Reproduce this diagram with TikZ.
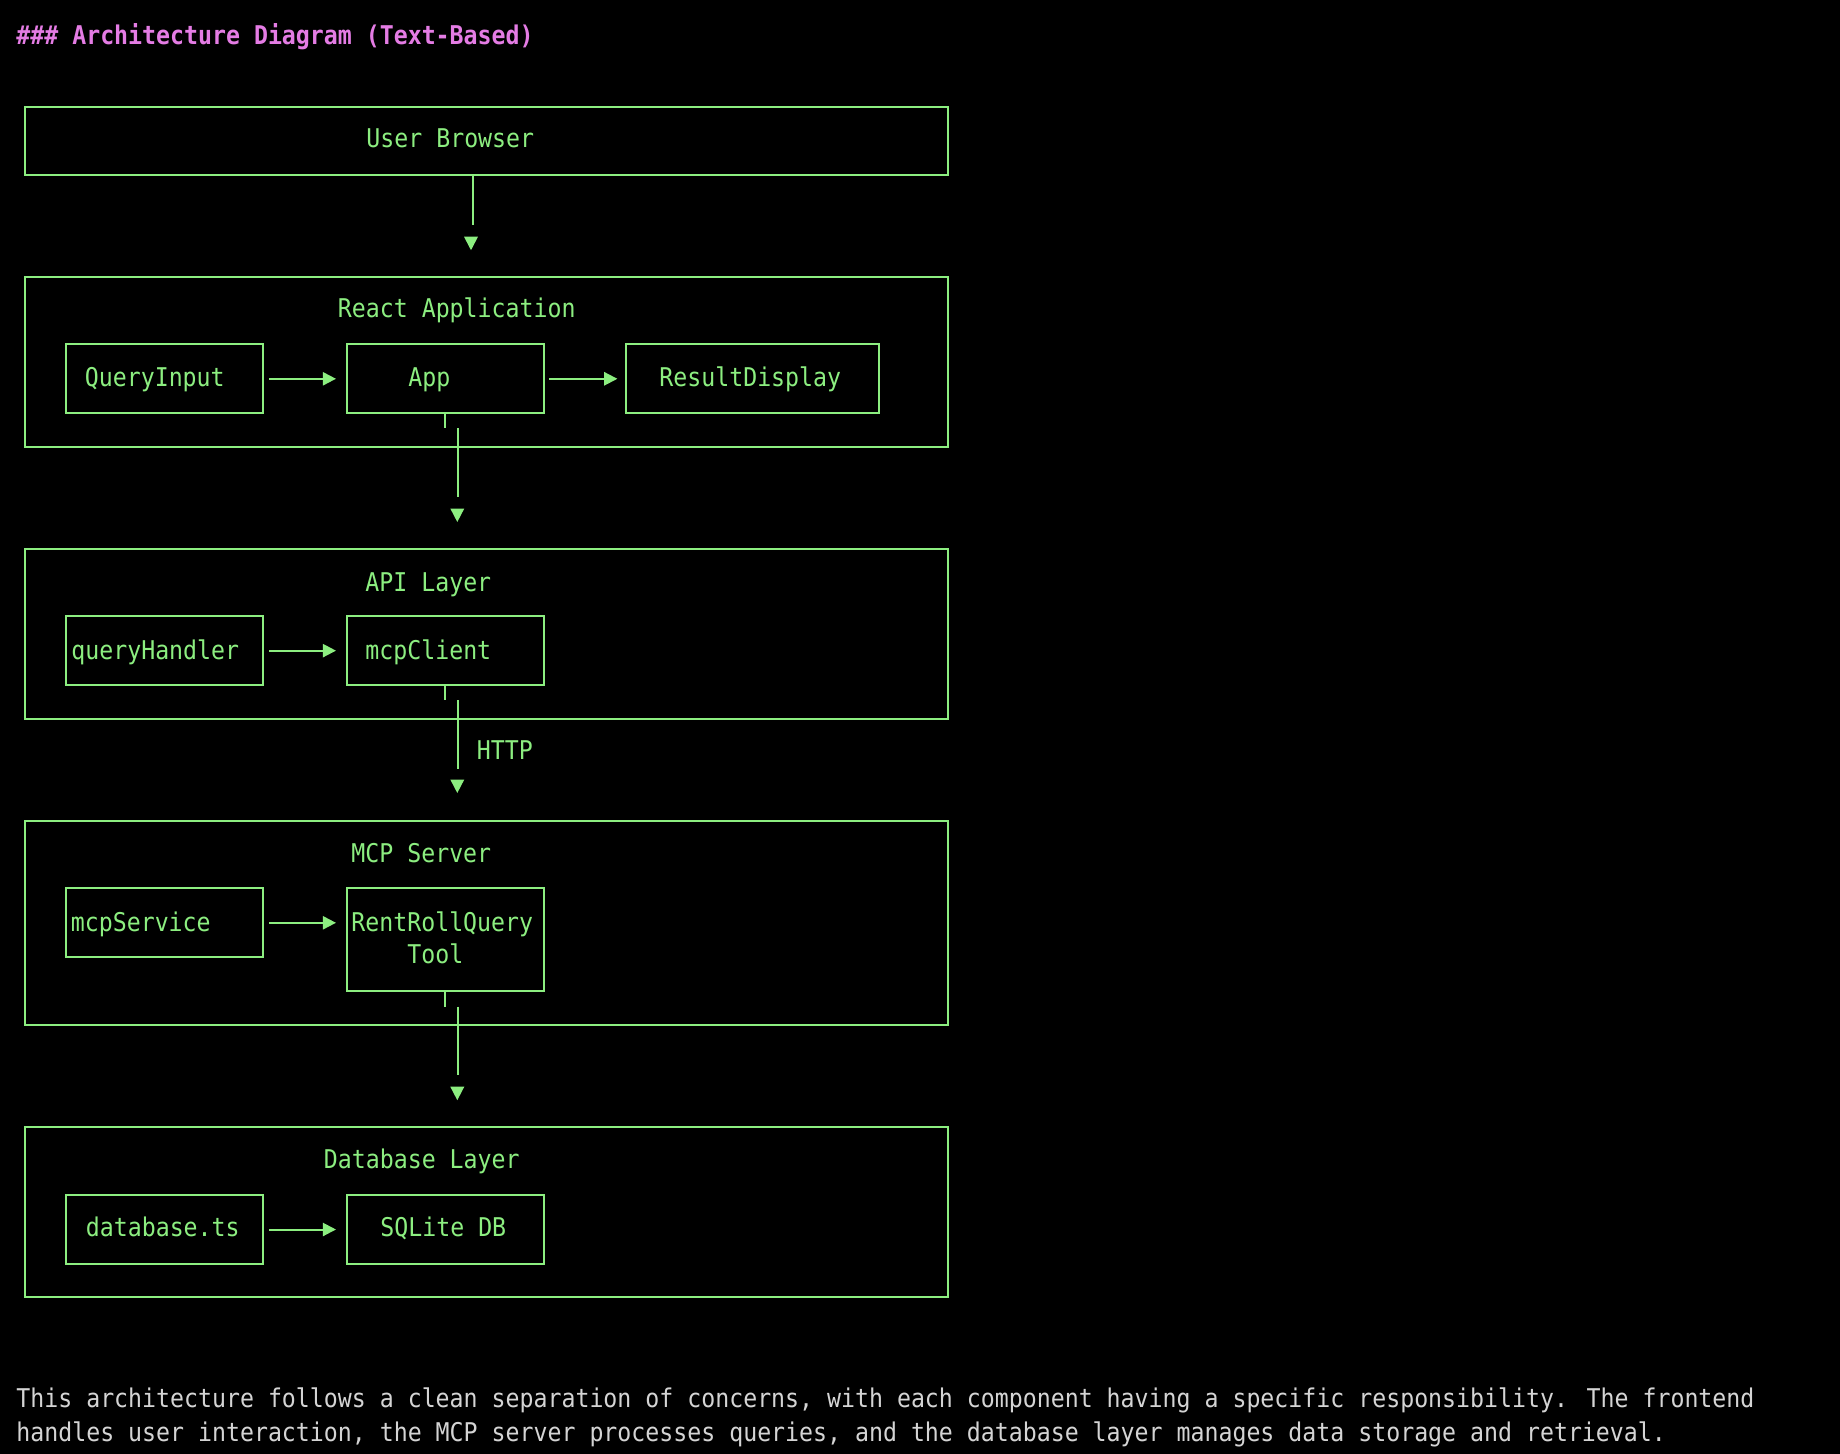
\documentclass[tikz,border=0pt]{standalone}
\usepackage{fontspec}
\newfontfamily\mono[FakeStretch=0.9]{DejaVu Sans Mono}
\usetikzlibrary{arrows.meta,fit}
\definecolor{tgreen}{RGB}{140,238,128}
\definecolor{tpink}{RGB}{228,124,228}
\definecolor{tgray}{RGB}{212,212,212}
\newcommand\layerbox[5]{\coordinate (#1-a) at (#2,#3); \coordinate (#1-b) at (#4,#5); \node[box, fit=(#1-a)(#1-b)] (#1) {};}
\newcommand\lbl[4]{\node[txt] (#1) at (#2,#3+8.5) {#4};}
\newcommand\dtri[2]{\fill[tgreen] (#1-7,#2) -- (#1+7,#2) -- (#1,#2+13.5) -- cycle;}
\begin{document}
\begin{tikzpicture}[x=0.5pt,y=-0.5pt,
  box/.style={draw=tgreen, line width=1pt, inner sep=0pt},
  txt/.style={text=tgreen, font=\mono\fontsize{12.9pt}{17pt}\selectfont, inner sep=0pt, anchor=base west},
  conn/.style={draw=tgreen, line width=1pt},
  harrow/.style={conn, -{Triangle[length=6.6pt,width=6.6pt]}}]
\fill[black] (0,0) rectangle (1840,1454);
\useasboundingbox (0,0) rectangle (1840,1454);

% title
\node[txt, text=tpink, font=\mono\fontsize{12.9pt}{17pt}\selectfont\bfseries] (title) at (16,45) {\#\#\# Architecture Diagram (Text-Based)};

% boxes
\layerbox{ub}{24.5}{106.7}{948}{174.7}
\layerbox{react}{24.5}{277}{948}{446.7}
\layerbox{qi}{66}{344.3}{263}{413.3}
\layerbox{app}{346.6}{344.3}{543.8}{413.3}
\layerbox{rd}{626}{344.3}{879.4}{413.3}
\layerbox{api}{24.5}{548.7}{948}{718.7}
\layerbox{qh}{66}{616}{263}{685.3}
\layerbox{mc}{346.6}{616}{543.8}{685.3}
\layerbox{mcp}{24.5}{820.7}{948}{1025}
\layerbox{ms}{66}{888.3}{263}{957.3}
\layerbox{rt}{346.6}{888.3}{543.8}{991}
\layerbox{db}{24.5}{1126.7}{948}{1296.7}
\layerbox{dt}{66}{1195}{263}{1264}
\layerbox{sq}{346.6}{1195}{543.8}{1264}

% labels
\lbl{tub}{366}{139.3}{User Browser}
\lbl{treact}{337.5}{308.6}{React Application}
\lbl{tqi}{84.5}{378}{QueryInput}
\lbl{tapp}{408}{378}{App}
\lbl{trd}{659}{378}{ResultDisplay}
\lbl{tapi}{365}{582.7}{API Layer}
\lbl{tqh}{71}{651}{queryHandler}
\lbl{tmc}{365}{651}{mcpClient}
\lbl{thttp}{476.5}{751}{HTTP}
\lbl{tmcp}{351}{854}{MCP Server}
\lbl{tms}{70.5}{922.7}{mcpService}
\lbl{trt1}{351}{922.7}{RentRollQuery}
\lbl{trt2}{407}{955}{Tool}
\lbl{tdb}{323.5}{1160}{Database Layer}
\lbl{tdt}{85.5}{1228.3}{database.ts}
\lbl{tsq}{380}{1228.3}{SQLite DB}

% horizontal arrows
\draw[harrow, shorten <=2.5pt, shorten >=4.8pt] (qi.east) -- (app.west);
\draw[harrow, shorten <=2.1pt, shorten >=3.8pt] (app.east) -- (rd.west);
\draw[harrow, shorten <=2.5pt, shorten >=4.8pt] (qh.east) -- (mc.west);
\draw[harrow, shorten <=2.5pt, shorten >=4.8pt] (ms.east) -- (ms.east -| rt.west);
\draw[harrow, shorten <=2.5pt, shorten >=4.8pt] (dt.east) -- (sq.west);

% User Browser -> React
\coordinate (v1) at (473,225);
\draw[conn] (ub.south -| v1) -- (v1);
\dtri{471}{236.7}

% App -> API
\coordinate (k1) at (444.6,428.3);
\draw[conn] (app.south -| k1) -- (k1);
\coordinate (v2s) at (458,428.3);
\coordinate (v2e) at (458,497);
\draw[conn] (v2s) -- (v2e);
\dtri{457.3}{508.5}

% mcpClient -> MCP (HTTP)
\coordinate (k2) at (444.6,700);
\draw[conn] (mc.south -| k2) -- (k2);
\coordinate (v3s) at (458,700);
\coordinate (v3e) at (458,768.6);
\draw[conn] (v3s) -- (v3e);
\dtri{457.3}{779.5}

% RentRollQuery -> DB
\coordinate (k3) at (444.6,1006.7);
\draw[conn] (rt.south -| k3) -- (k3);
\coordinate (v4s) at (458,1006.7);
\coordinate (v4e) at (458,1075);
\draw[conn] (v4s) -- (v4e);
\dtri{457.3}{1086.7}

% body text
\node[txt, text=tgray] (body1) at (16,1407) {This architecture follows a clean separation of concerns, with each component having a specific responsibility. The frontend};
\node[txt, text=tgray] (body2) at (16,1441) {handles user interaction, the MCP server processes queries, and the database layer manages data storage and retrieval.};
\end{tikzpicture}
\end{document}
